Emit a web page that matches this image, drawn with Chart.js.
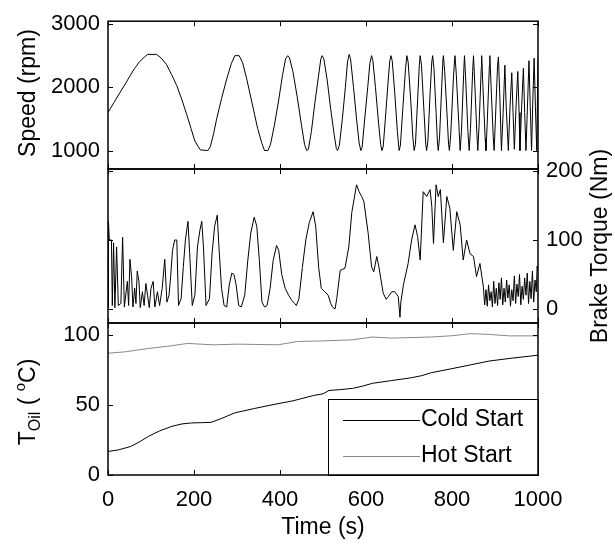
<!DOCTYPE html>
<html>
<head>
<meta charset="utf-8">
<script src="https://cdn.jsdelivr.net/npm/chart.js@4.4.1/dist/chart.umd.min.js"></script>
<style>
  body { margin: 0; background: #fff; }
  #wrap { position: relative; width: 615px; height: 545px; }
  canvas { position: absolute; left: 0; top: 0; }
</style>
</head>
<body>
<div id="wrap">
  <canvas id="speedChart" width="615" height="545"></canvas>
  <canvas id="torqueChart" width="615" height="545"></canvas>
  <canvas id="oilChart" width="615" height="545"></canvas>
</div>
<script>
// tick labels
const timeTicks = [0, 200, 400, 600, 800, 1000];
const speedTicks = [1000, 2000, 3000];
const torqueTicks = [0, 100, 200];
const oilTicks = [0, 50, 100];

// engine speed (rpm)
const speedTime = [0, 14, 28, 40, 51, 62, 74, 85, 92, 113, 124, 136, 148, 160, 172, 183, 193, 202, 210, 215, 232, 238, 246, 253, 264, 276, 287, 295, 305, 313, 322, 335, 348, 358, 364, 372, 378, 387, 397, 406, 413, 418, 422, 430, 440, 450, 457, 462, 466, 473, 481, 489, 495, 498, 502, 510, 518, 526, 531, 534, 538, 545, 552, 557, 561, 564, 571, 578, 584, 588, 591, 597, 604, 609, 613, 616, 622, 629, 634, 637, 640, 645, 651, 655, 658, 661, 667, 673, 677, 680, 686, 692, 695, 698, 704, 709, 712, 715, 720, 724, 726, 729, 735, 739, 741, 744, 749, 753, 755, 758, 763, 766, 768, 771, 776, 779, 780, 783, 789, 792, 794, 797, 803, 806, 807, 810, 816, 819, 822, 827, 829, 832, 837, 840, 843, 848, 850, 853, 858, 860, 863, 868, 869, 872, 877, 879, 882, 887, 888, 891, 896, 898, 901, 906, 908, 911, 915, 919, 923, 926, 931, 935, 939, 942, 945, 949, 953, 956, 958, 962, 966, 969, 972, 976, 979, 982, 985, 988, 991, 994, 997, 1000];
const speedRpm = [1600, 1760, 1920, 2050, 2180, 2300, 2410, 2480, 2520, 2520, 2460, 2360, 2200, 2025, 1800, 1570, 1350, 1150, 1060, 1010, 1000, 1060, 1280, 1510, 1820, 2130, 2380, 2500, 2500, 2390, 2150, 1750, 1350, 1110, 1000, 1000, 1100, 1400, 1800, 2200, 2450, 2500, 2470, 2250, 1850, 1400, 1100, 1000, 1020, 1300, 1750, 2150, 2450, 2500, 2450, 2100, 1650, 1250, 1030, 1000, 1080, 1500, 2000, 2400, 2520, 2450, 2000, 1500, 1120, 1000, 1050, 1500, 2000, 2380, 2500, 2420, 2000, 1450, 1100, 1000, 1060, 1500, 2050, 2400, 2500, 2420, 1900, 1300, 1000, 1080, 1700, 2300, 2500, 2400, 1800, 1200, 1000, 1100, 1800, 2350, 2500, 2350, 1600, 1100, 1000, 1150, 1900, 2400, 2500, 2300, 1600, 1150, 1000, 1200, 2000, 2450, 2500, 2250, 1500, 1100, 1000, 1250, 2100, 2450, 2500, 2200, 1400, 1000, 1300, 2200, 2500, 2100, 1300, 1000, 1350, 2250, 2500, 2050, 1250, 1000, 1400, 2300, 2500, 2000, 1200, 1000, 1450, 2350, 2500, 2000, 1200, 1000, 1500, 2350, 2480, 1900, 1000, 1600, 2350, 1700, 1000, 1700, 2230, 1600, 1020, 1700, 2250, 1600, 1000, 1700, 2300, 1600, 1000, 1800, 2420, 1700, 1000, 1800, 2460, 1700, 1000, 2450];

// brake torque (Nm)
const torqueTime = [0, 1, 3, 8, 10, 13, 16, 20, 24, 30, 34, 38, 45, 48, 51, 55, 58, 62, 65, 68, 72, 75, 80, 84, 88, 92, 96, 100, 105, 109, 115, 120, 126, 132, 137, 142, 146, 150, 155, 160, 164, 170, 175, 180, 186, 190, 196, 202, 208, 214, 218, 222, 228, 236, 242, 248, 254, 258, 264, 270, 276, 282, 288, 293, 298, 304, 310, 318, 325, 332, 340, 346, 352, 358, 364, 370, 377, 384, 392, 397, 404, 412, 420, 428, 434, 438, 444, 452, 460, 468, 477, 483, 490, 496, 504, 512, 518, 522, 528, 532, 540, 551, 560, 567, 578, 584, 590, 595, 605, 613, 618, 625, 630, 640, 647, 652, 660, 667, 675, 679, 681, 687, 698, 706, 714, 720, 726, 733, 741, 749, 753, 757, 763, 768, 773, 780, 788, 795, 803, 811, 819, 826, 834, 842, 850, 857, 865, 873, 876, 879, 882, 885, 888, 891, 894, 897, 900, 903, 906, 909, 912, 915, 918, 921, 924, 927, 930, 933, 936, 939, 942, 945, 948, 951, 954, 957, 960, 963, 966, 969, 972, 975, 978, 981, 984, 987, 990, 993, 996, 998, 1000];
const torqueNm = [2, 127, 100, 100, 5, 96, 2, 90, 5, 8, 104, 3, 40, 5, 72, 45, 3, 30, 8, 55, 40, 2, 25, 5, 37, 20, 2, 30, 40, 3, 25, 5, 30, 72, 10, 20, 50, 85, 100, 100, 5, 15, 60, 100, 127, 80, 5, 20, 90, 115, 127, 90, 5, 15, 80, 120, 136, 90, 30, 5, 3, 35, 52, 50, 35, 5, 3, 20, 70, 110, 133, 120, 70, 10, 3, 5, 30, 70, 92, 85, 50, 30, 20, 12, 8, 5, 15, 60, 100, 125, 141, 120, 60, 30, 25, 20, 8, 3, 0, 15, 56, 59, 90, 140, 180, 170, 163, 156, 110, 61, 54, 76, 61, 23, 14, 18, 25, 25, 18, -12, 10, 35, 66, 100, 122, 105, 71, 170, 163, 173, 149, 95, 180, 163, 173, 96, 163, 146, 85, 141, 122, 71, 100, 80, 76, 47, 66, 32, 6, 28, 4, 35, 12, 25, 3, 40, 8, 30, 5, 38, 14, 45, 6, 30, 10, 42, 16, 35, 4, 28, 12, 48, 8, 36, 18, 50, 6, 33, 14, 45, 20, 52, 8, 40, 15, 55, 10, 42, 25, 62, 55];

// oil temperature (degC)
const coldTime = [0, 25, 53, 75, 94, 120, 149, 172, 195, 218, 240, 265, 295, 340, 386, 430, 478, 500, 514, 540, 569, 592, 615, 660, 706, 730, 752, 800, 843, 888, 940, 1000];
const coldTemp = [16.8, 18, 20.4, 24, 27.6, 31.5, 34.8, 36.5, 37.2, 37.4, 37.6, 40.5, 44.4, 47.5, 50.4, 53, 56.8, 58, 60.4, 61, 61.9, 63.5, 65.5, 67.5, 69.5, 71, 73.1, 76, 78.7, 81.5, 83.5, 85.6];
const hotTime = [0, 40, 94, 140, 185, 245, 300, 395, 441, 500, 569, 615, 660, 752, 800, 843, 888, 934, 1000];
const hotTemp = [87, 88, 90.4, 92, 94, 93, 93.5, 93, 95.4, 95.8, 96.6, 98.6, 97.8, 98.6, 99.5, 101, 100.4, 99.4, 99.4];

const FONT = "'Liberation Sans', Arial, Helvetica, sans-serif";
const FS = 22;   // tick labels
const TS = 23;   // axis titles and legend

function points(xs, ys) {
  return xs.map((x, i) => ({ x: x, y: ys[i] }));
}

function setTicks(values) {
  return function (scale) { scale.ticks = values.map(v => ({ value: v })); };
}

function plainLabel(v) { return String(v); }

function yScale(pos, min, max, ticks, width) {
  return {
    type: 'linear', position: pos, min: min, max: max,
    afterBuildTicks: setTicks(ticks),
    afterFit: function (scale) { scale.width = width; },
    grid: { display: false, drawTicks: false },
    border: { display: false },
    ticks: { color: '#000', font: { family: FONT, size: FS }, padding: 8, callback: plainLabel }
  };
}

function xScale(show) {
  return {
    type: 'linear', min: 0, max: 1000, display: show,
    afterBuildTicks: setTicks(timeTicks),
    afterFit: function (scale) { if (show) scale.height = 70; },
    grid: { display: false, drawTicks: false },
    border: { display: false },
    ticks: { color: '#000', font: { family: FONT, size: FS }, padding: 12, maxRotation: 0, callback: plainLabel }
  };
}

function rotatedText(ctx, parts, cx, cy) {
  ctx.save();
  ctx.translate(cx, cy);
  ctx.rotate(-Math.PI / 2);
  ctx.textBaseline = 'middle';
  ctx.textAlign = 'left';
  let total = 0;
  parts.forEach(p => { ctx.font = p.size + 'px ' + FONT; total += ctx.measureText(p.text).width; });
  let x = -total / 2;
  parts.forEach(p => {
    ctx.font = p.size + 'px ' + FONT;
    ctx.fillText(p.text, x, p.dy || 0);
    x += ctx.measureText(p.text).width;
  });
  ctx.restore();
}

// border box, inward tick marks, titles and legend
function framePlugin(extra) {
  return {
    id: 'frame',
    afterDraw(chart) {
      const ctx = chart.ctx;
      const a = chart.chartArea;
      const xs = chart.scales.x, ys = chart.scales.y;
      ctx.save();
      ctx.fillStyle = '#000';
      ctx.strokeStyle = '#000';
      ctx.lineWidth = 1;
      ctx.beginPath();
      timeTicks.forEach(v => {
        const px = Math.round(xs.getPixelForValue(v)) + 0.5;
        ctx.moveTo(px, a.top); ctx.lineTo(px, a.top + 5);
        ctx.moveTo(px, a.bottom); ctx.lineTo(px, a.bottom - 5);
      });
      ys.ticks.forEach(t => {
        const py = Math.round(ys.getPixelForValue(t.value)) + 0.5;
        ctx.moveTo(a.left, py); ctx.lineTo(a.left + 5, py);
        ctx.moveTo(a.right, py); ctx.lineTo(a.right - 5, py);
      });
      ctx.stroke();
      if (extra) extra(chart, ctx, a);
      ctx.lineWidth = 1.5;
      ctx.strokeRect(a.left, a.top, a.right - a.left, a.bottom - a.top);
      ctx.restore();
    }
  };
}

function baseOptions(padding, y, showX) {
  return {
    responsive: false,
    animation: false,
    events: [],
    layout: { padding: padding },
    plugins: { legend: { display: false }, tooltip: { enabled: false } },
    elements: { point: { radius: 0 }, line: { borderWidth: 1, tension: 0 } },
    scales: { x: xScale(showX), y: y }
  };
}

new Chart(document.getElementById('speedChart'), {
  type: 'line',
  data: { datasets: [{ label: 'Speed', data: points(speedTime, speedRpm), borderColor: '#000' }] },
  options: baseOptions({ top: 17, bottom: 376, left: 0, right: 77 }, yScale('left', 708, 3045, speedTicks, 108), false),
  plugins: [framePlugin(function (chart, ctx) {
    ctx.fillStyle = '#000';
    rotatedText(ctx, [{ text: 'Speed (rpm)', size: TS }], 29, 93);
  })]
});

new Chart(document.getElementById('torqueChart'), {
  type: 'line',
  data: { datasets: [{ label: 'Brake Torque', data: points(torqueTime, torqueNm), borderColor: '#000' }] },
  options: baseOptions({ top: 169, bottom: 222, left: 108, right: 0 }, yScale('right', -20.3, 202.9, torqueTicks, 77), false),
  plugins: [framePlugin(function (chart, ctx) {
    ctx.fillStyle = '#000';
    rotatedText(ctx, [{ text: 'Brake Torque (Nm)', size: TS }], 601, 246);
  })]
});

new Chart(document.getElementById('oilChart'), {
  type: 'line',
  data: {
    datasets: [
      { label: 'Cold Start', data: points(coldTime, coldTemp), borderColor: '#000' },
      { label: 'Hot Start', data: points(hotTime, hotTemp), borderColor: '#888' }
    ]
  },
  options: baseOptions({ top: 323, bottom: 0, left: 0, right: 77 }, yScale('left', 0, 108.6, oilTicks, 108), true),
  plugins: [framePlugin(function (chart, ctx, a) {
    ctx.fillStyle = '#000';
    rotatedText(ctx, [
      { text: 'T', size: TS },
      { text: 'Oil', size: 16, dy: 7 },
      { text: ' ( ', size: TS },
      { text: 'o', size: 15, dy: -8 },
      { text: 'C)', size: TS }
    ], 29, 402);
    ctx.font = TS + 'px ' + FONT;
    ctx.textAlign = 'center';
    ctx.textBaseline = 'middle';
    ctx.fillText('Time (s)', (a.left + a.right) / 2, 528);
    // legend
    const w = 210, h = 76;
    const lx = a.right - w, ly = a.bottom - h;
    ctx.fillStyle = '#fff';
    ctx.fillRect(lx, ly, w, h);
    ctx.lineWidth = 1;
    ctx.strokeStyle = '#000';
    ctx.strokeRect(lx + 0.5, ly + 0.5, w, h);
    chart.data.datasets.forEach((ds, i) => {
      const yy = ly + 21 + i * 36;
      ctx.strokeStyle = ds.borderColor;
      ctx.beginPath();
      ctx.moveTo(lx + 15, yy + 0.5);
      ctx.lineTo(lx + 92, yy + 0.5);
      ctx.stroke();
      ctx.fillStyle = '#000';
      ctx.textAlign = 'left';
      ctx.fillText(ds.label, lx + 93, yy);
    });
    ctx.strokeStyle = '#000';
  })]
});
</script>
</body>
</html>
